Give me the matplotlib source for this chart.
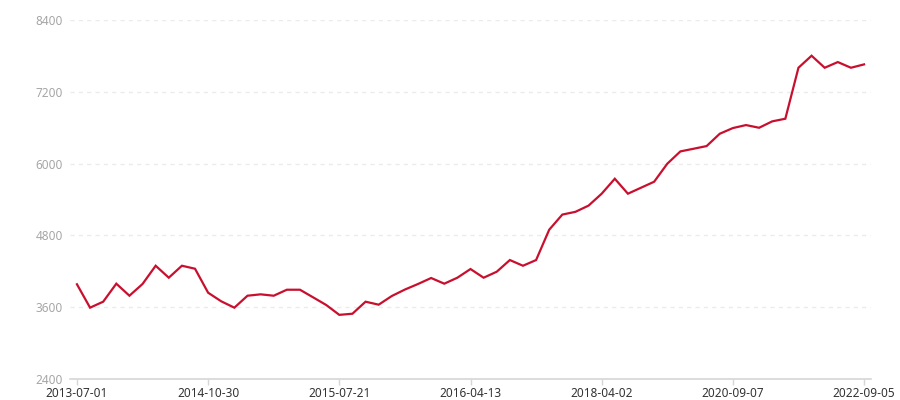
import matplotlib
matplotlib.use("Agg")
import matplotlib.pyplot as plt

values = [3983, 3592, 3692, 3993, 3792, 3988, 4293, 4093, 4293, 4243,
          3842, 3698, 3592, 3792, 3815, 3792, 3892, 3892, 3765, 3637,
          3472, 3491, 3692, 3642, 3787, 3895, 3988, 4088, 3993, 4093,
          4238, 4093, 4193, 4388, 4293, 4388, 4895, 5148, 5194, 5298,
          5497, 5747, 5497, 5597, 5697, 5998, 6204, 6248, 6293, 6499,
          6594, 6644, 6599, 6706, 6750, 7602, 7803, 7602, 7697, 7602,
          7658]
tick_index = [0, 10, 20, 30, 40, 50, 60]
tick_labels = ["2013-07-01", "2014-10-30", "2015-07-21", "2016-04-13",
               "2018-04-02", "2020-09-07", "2022-09-05"]
y_ticks = [2400, 3600, 4800, 6000, 7200, 8400]

plt.rcParams['font.family'] = ['Noto Sans', 'DejaVu Sans']
fig = plt.figure(figsize=(9, 4), dpi=100)
ax = fig.add_axes([70/900, 21/400, (871-70)/900, (379-20)/400])

x = list(range(len(values)))
ax.plot(x, values, color="#c8102e", linewidth=1.6, solid_joinstyle="miter", zorder=3)

ax.set_xlim(-0.53, len(values) - 1 + 0.53)
ax.set_ylim(2400, 8400)
ax.set_yticks(y_ticks)
ax.set_yticklabels([str(v) for v in y_ticks])
ax.set_xticks(tick_index)
ax.set_xticklabels(tick_labels)

for v in y_ticks[1:]:
    ax.axhline(v, color="#ebebeb", linewidth=1, linestyle=(0, (3, 3)), zorder=1)

for s in ["top", "right", "left"]:
    ax.spines[s].set_visible(False)
ax.spines["bottom"].set_color("#d6d6d6")
ax.spines["bottom"].set_linewidth(1.2)

ax.tick_params(axis="y", length=0, pad=5, labelsize=8.5, labelcolor="#a6a6a6")
ax.tick_params(axis="x", length=4, width=1, color="#d6d6d6", pad=2,
               labelsize=8.5, labelcolor="#333333")

fig.savefig("out.png", dpi=100)
